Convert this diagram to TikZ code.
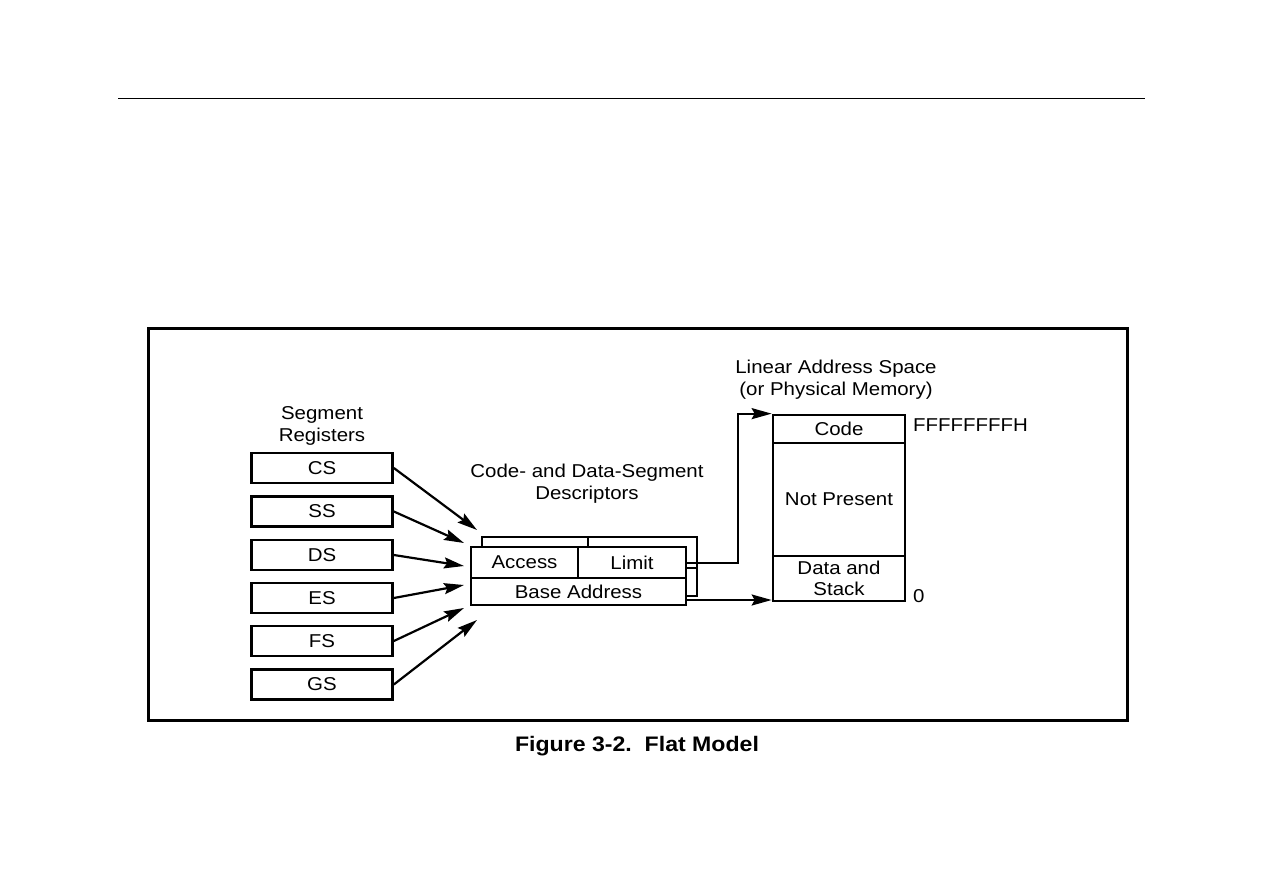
\documentclass[tikz,border=0pt]{standalone}
\usepackage{fontspec}
\setmainfont{Liberation Sans}[FakeStretch=1.1]
\usetikzlibrary{arrows.meta}
\tikzset{
  box/.style={draw, line width=2.7pt, fill=white, inner sep=0pt, text depth=0pt, font=\fontsize{18.6}{21.5}\selectfont},
  lbl/.style={inner sep=0pt, align=center, font=\fontsize{18.6}{21.5}\selectfont},
  arr/.style={line width=2.2pt, -{Stealth[length=20pt,width=11pt,inset=3pt]}},
  conn/.style={line width=2.2pt}
}
\begin{document}
\begin{tikzpicture}[x=1pt,y=-1pt]
\useasboundingbox (0,0) rectangle (1263,893);
% top rule
\draw[line width=1pt] (118,99) -- (1145,99);
% frame
\draw[line width=3pt] (148,328) rectangle (1127,720);

% segment registers
\node[lbl] (seglbl) at (322,426) {Segment\\Registers};
\node[box, minimum width=141pt, minimum height=30pt] (cs) at (322,468) {CS};
\node[box, minimum width=141pt, minimum height=30pt] (ss) at (322,511.5) {SS};
\node[box, minimum width=141pt, minimum height=30pt] (ds) at (322,555) {DS};
\node[box, minimum width=141pt, minimum height=30pt] (es) at (322,598) {ES};
\node[box, minimum width=141pt, minimum height=30pt] (fs) at (322,641) {FS};
\node[box, minimum width=141pt, minimum height=30pt] (gs) at (322,684.5) {GS};

% descriptors
\node[lbl] (desclbl) at (587,483.5) {Code- and Data-Segment\\Descriptors};
\draw[line width=2.7pt, fill=white] (482,537) rectangle (697,596);
\draw[line width=2.7pt] (588,537) -- (588,568);
\draw[line width=2.7pt] (482,568) -- (697,568);
\node[box, minimum width=107pt, minimum height=31pt] (access) at (524.5,562.5) {Access};
\node[box, minimum width=108pt, minimum height=31pt] (limit) at (632,562.5) {Limit};
\node[box, minimum width=215pt, minimum height=27pt] (base) at (578.5,591.5) {Base Address};

% arrow targets
\coordinate (tcs) at (477,530);
\coordinate (tss) at (464,543);
\coordinate (tds) at (464,566);
\coordinate (tes) at (464,585);
\coordinate (tfs) at (464,608);
\coordinate (tgs) at (477,620);
\draw[arr] (cs.east) -- (tcs);
\draw[arr] (ss.east) -- (tss);
\draw[arr] (ds.east) -- (tds);
\draw[arr] (es.east) -- (tes);
\draw[arr] (fs.east) -- (tfs);
\draw[arr] (gs.east) -- (tgs);

% memory
\node[lbl] (memlbl) at (836,379.5) {Linear Address Space\\(or Physical Memory)};
\node[box, minimum width=132pt, minimum height=28pt] (code) at (839,429) {Code};
\node[box, minimum width=132pt, minimum height=113pt] (np) at (839,499.5) {Not Present};
\node[box, minimum width=132pt, minimum height=45pt, align=center] (data) at (839,578.5) {Data and\\Stack};
\node[lbl, anchor=west] (ffff) at (913,425) {FFFFFFFFH};
\node[lbl, anchor=west] (zero) at (913,596) {0};

% connectors
\coordinate (bend) at (738,563);
\draw[arr] (limit.east |- bend) -- (bend) |- (code.north west);
\coordinate (bstart) at (686,600);
\draw[arr] (bstart) -- (data.west |- bstart);

% caption
\node[inner sep=0pt, font=\fontsize{21}{25}\selectfont\bfseries] (cap) at (637,746) {Figure 3-2.\ \ Flat Model};
\end{tikzpicture}
\end{document}
